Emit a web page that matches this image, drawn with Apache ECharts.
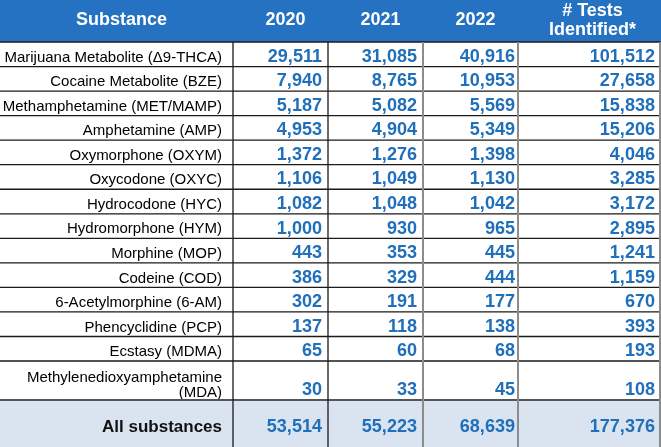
<!DOCTYPE html>
<html>
<head>
<meta charset="utf-8">
<script src="https://cdn.jsdelivr.net/npm/echarts@6/dist/echarts.min.js"></script>
<style>
    html, body { margin: 0; padding: 0; background: #fff; }
    #main { width: 661px; height: 447px; }
</style>
</head>
<body>
<div id="main"></div>
<script>
// table content
var headers = ['Substance', '2020', '2021', '2022', '# Tests\nIdentified*'];
var substances = [
    'Marijuana Metabolite (\u03949-THCA)',
    'Cocaine Metabolite (BZE)',
    'Methamphetamine (MET/MAMP)',
    'Amphetamine (AMP)',
    'Oxymorphone (OXYM)',
    'Oxycodone (OXYC)',
    'Hydrocodone (HYC)',
    'Hydromorphone (HYM)',
    'Morphine (MOP)',
    'Codeine (COD)',
    '6-Acetylmorphine (6-AM)',
    'Phencyclidine (PCP)',
    'Ecstasy (MDMA)',
    'Methylenedioxyamphetamine\n(MDA)'
];
var y2020 = [29511, 7940, 5187, 4953, 1372, 1106, 1082, 1000, 443, 386, 302, 137, 65, 30];
var y2021 = [31085, 8765, 5082, 4904, 1276, 1049, 1048, 930, 353, 329, 191, 118, 60, 33];
var y2022 = [40916, 10953, 5569, 5349, 1398, 1130, 1042, 965, 445, 444, 177, 138, 68, 45];
var testsIdentified = [101512, 27658, 15838, 15206, 4046, 3285, 3172, 2895, 1241, 1159, 670, 393, 193, 108];
var totalLabel = 'All substances';
var totals = [53514, 55223, 68639, 177376];

// layout (pixels of the 661x447 canvas)
var colEdges = [0, 233, 328, 423, 518, 661];
var rowHeights = [42].concat(substances.map(function (s) {
    return s.indexOf('\n') >= 0 ? 39 : 24.54;
})).concat([47]);
var rowEdges = [0];
rowHeights.forEach(function (h, i) { rowEdges.push(rowEdges[i] + h); });
var lastRow = rowHeights.length - 1;

var headerNudge = [5, 5, 5, 5, 3];
var rightPad = [11, 6, 6, 3, 6];

var BLUE = '#2572c2';
var NUM = '#1f6fba';
var TOTAL_BG = '#dae4f0';
var FONT = '"Liberation Sans", Arial, sans-serif';

function fmt(v) {
    return v.toString().replace(/\B(?=(\d{3})+(?!\d))/g, ',');
}

// one entry per cell
var cells = [];
headers.forEach(function (h, c) {
    cells.push({ c: c, r: 0, text: h, kind: 'head' });
});
substances.forEach(function (s, i) {
    var r = i + 1;
    cells.push({ c: 0, r: r, text: s, kind: 'label' });
    [y2020, y2021, y2022, testsIdentified].forEach(function (arr, k) {
        cells.push({ c: k + 1, r: r, text: fmt(arr[i]), kind: 'num' });
    });
});
cells.push({ c: 0, r: lastRow, text: totalLabel, kind: 'total' });
totals.forEach(function (v, k) {
    cells.push({ c: k + 1, r: lastRow, text: fmt(v), kind: 'num' });
});

// grid lines
var lines = [];
for (var k = 1; k < rowEdges.length - 1; k++) {
    lines.push({ x1: colEdges[0], y1: rowEdges[k], x2: colEdges[5], y2: rowEdges[k], color: k == lastRow ? '#555' : '#1a1a1a', width: k == lastRow ? 2 : 1.3 });
}
for (var j = 1; j < colEdges.length - 1; j++) {
    lines.push({ x1: colEdges[j], y1: rowEdges[1], x2: colEdges[j], y2: rowEdges[rowEdges.length - 1], color: j <= 2 ? '#1a1a1a' : '#8c8c8c', width: j <= 2 ? 1.3 : 2 });
}
lines.push({ x1: colEdges[5] - 1, y1: rowEdges[1], x2: colEdges[5] - 1, y2: rowEdges[rowEdges.length - 1], color: '#8c8c8c', width: 2 });

var chart = echarts.init(document.getElementById('main'));

chart.setOption({
    animation: false,
    grid: { left: 0, right: 0, top: 0, bottom: 0 },
    xAxis: { type: 'value', min: 0, max: 661, show: false },
    yAxis: { type: 'value', min: 0, max: 447, inverse: true, show: false },
    series: [
        {
            type: 'custom',
            coordinateSystem: 'cartesian2d',
            silent: true,
            data: cells.map(function (d) { return [d.c, d.r]; }),
            renderItem: function (params, api) {
                var d = cells[params.dataIndex];
                var p0 = api.coord([colEdges[d.c], rowEdges[d.r]]);
                var p1 = api.coord([colEdges[d.c + 1], rowEdges[d.r + 1]]);
                var isTotal = d.r == lastRow;
                var bg = d.kind == 'head' ? BLUE : (isTotal ? TOTAL_BG : '#fff');
                var tx, ty, align, size, weight = 'bold', fill, lh = 18, sx = 1;
                if (d.kind == 'head') {
                    tx = (p0[0] + p1[0]) / 2 + headerNudge[d.c];
                    ty = (p0[1] + p1[1]) / 2 - 0.5;
                    align = 'center';
                    size = 18;
                    fill = '#fff';
                    lh = 19;
                } else {
                    tx = p1[0] - rightPad[d.c];
                    align = 'right';
                    if (d.kind == 'label') {
                        size = 15;
                        weight = 'normal';
                        fill = '#000';
                        lh = 15;
                        ty = d.text.indexOf('\n') >= 0 ? p1[1] - 14.5 : p1[1] - 9;
                    } else if (d.kind == 'total') {
                        size = 17;
                        fill = '#111';
                        ty = p1[1] - 19.5;
                    } else {
                        size = 19;
                        sx = 0.95;
                        fill = NUM;
                        ty = isTotal ? p1[1] - 20 : p1[1] - 10;
                    }
                }
                return {
                    type: 'group',
                    children: [
                        {
                            type: 'rect',
                            shape: { x: p0[0], y: p0[1], width: p1[0] - p0[0] + 0.5, height: p1[1] - p0[1] + 0.5 },
                            style: { fill: bg }
                        },
                        {
                            type: 'text',
                            x: tx,
                            y: ty,
                            scaleX: sx,
                            style: {
                                text: d.text,
                                x: 0,
                                y: 0,
                                font: weight + ' ' + size + 'px ' + FONT,
                                fill: fill,
                                align: align,
                                textAlign: align,
                                verticalAlign: 'middle',
                                textVerticalAlign: 'middle',
                                lineHeight: lh
                            }
                        }
                    ]
                };
            }
        },
        {
            type: 'custom',
            coordinateSystem: 'cartesian2d',
            silent: true,
            z: 5,
            data: lines.map(function (l) { return [l.x1, l.y1]; }),
            renderItem: function (params, api) {
                var l = lines[params.dataIndex];
                var a = api.coord([l.x1, l.y1]);
                var b = api.coord([l.x2, l.y2]);
                return {
                    type: 'line',
                    shape: { x1: a[0], y1: a[1], x2: b[0], y2: b[1] },
                    style: { stroke: l.color, lineWidth: l.width }
                };
            }
        }
    ]
});
</script>
</body>
</html>
